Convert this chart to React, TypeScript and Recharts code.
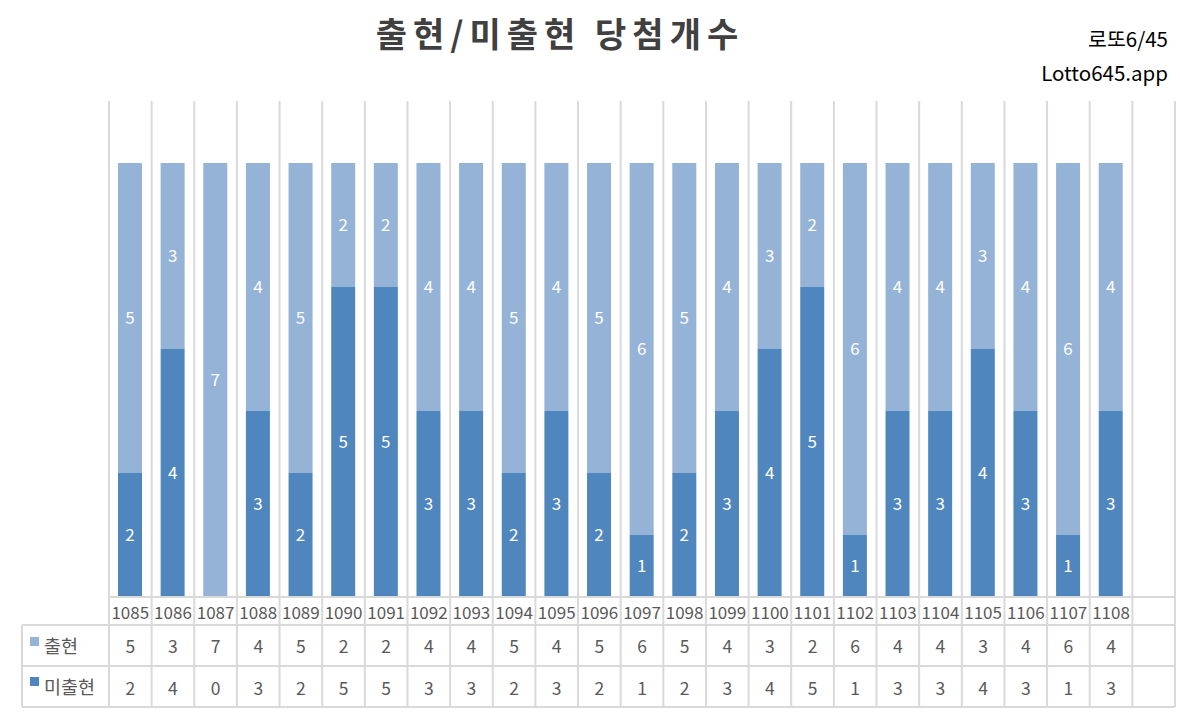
import React from 'react';
import { BarChart, Bar, XAxis, YAxis, CartesianGrid, LabelList } from 'recharts';

const roundLabelList = [
  '1085', '1086', '1087', '1088', '1089', '1090', '1091', '1092', '1093', '1094', '1095', '1096',
  '1097', '1098', '1099', '1100', '1101', '1102', '1103', '1104', '1105', '1106', '1107', '1108',
];
const appearedCountList = [5, 3, 7, 4, 5, 2, 2, 4, 4, 5, 4, 5, 6, 5, 4, 3, 2, 6, 4, 4, 3, 4, 6, 4];
const missedCountList = [2, 4, 0, 3, 2, 5, 5, 3, 3, 2, 3, 2, 1, 2, 3, 4, 5, 1, 3, 3, 4, 3, 1, 3];
const seriesNameList = ['출현', '미출현'];
const yTickList = [0, 8];

const CHART_WIDTH = 1180;
const CHART_HEIGHT = 723;
const PLOT_LEFT = 109;
const PLOT_RIGHT = 1175;
const PLOT_TOP = 101;
const PLOT_BOTTOM = 597;
const TABLE_LEFT = 22;
const ROW_LINES = [625, 666, 707];
const LIGHT = '#95b3d7';
const DARK = '#4f86bd';
const GRID = '#d9d9d9';
const TEXT = '#595959';
const FONT = '"Noto Sans CJK KR", "Noto Sans", sans-serif';

// one empty slot at the end, like the source sheet
const chartRowList = [
  ...roundLabelList.map((roundLabel, index) => ({
    roundLabel,
    appeared: appearedCountList[index],
    missed: missedCountList[index],
  })),
  { roundLabel: '', appeared: null, missed: null },
];

const slotCount = chartRowList.length;

function TableTick(props: any) {
  const { x, payload, index } = props;
  const row = chartRowList[index];
  return (
    <g fontFamily={FONT} fontSize={17} fill={TEXT} textAnchor="middle">
      <text x={x} y={PLOT_BOTTOM + 22} fill={TEXT}>{payload.value}</text>
      <text x={x} y={ROW_LINES[0] + 28} fill={TEXT} fontSize={17.5}>{row && row.appeared != null ? row.appeared : ''}</text>
      <text x={x} y={ROW_LINES[1] + 28.5} fill={TEXT} fontSize={17.5}>{row && row.missed != null ? row.missed : ''}</text>
    </g>
  );
}

function TableLines() {
  const slotWidth = (PLOT_RIGHT - PLOT_LEFT) / slotCount;
  const verticalList = Array.from({ length: slotCount + 1 }, (_, i) => PLOT_LEFT + i * slotWidth);
  return (
    <svg
      width={CHART_WIDTH}
      height={CHART_HEIGHT}
      style={{ position: 'absolute', left: 0, top: 0, pointerEvents: 'none' }}
    >
      <g stroke={GRID} strokeWidth={2}>
        {verticalList.map((x) => (
          <line key={x} x1={x} x2={x} y1={PLOT_BOTTOM} y2={ROW_LINES[2]} />
        ))}
        <line x1={TABLE_LEFT} x2={TABLE_LEFT} y1={ROW_LINES[0]} y2={ROW_LINES[2]} />
        {ROW_LINES.map((y) => (
          <line key={y} x1={TABLE_LEFT} x2={PLOT_RIGHT} y1={y} y2={y} />
        ))}
      </g>
      <rect x={30} y={637} width={9} height={9} fill={LIGHT} />
      <rect x={30} y={677} width={9} height={9} fill={DARK} />
      <g fontFamily={FONT} fontSize={18.5} fill={TEXT}>
        <text x={44} y={653}>{seriesNameList[0]}</text>
        <text x={44} y={694}>{seriesNameList[1]}</text>
      </g>
    </svg>
  );
}

export default function App(): React.JSX.Element {
  return (
    <div style={{ position: 'absolute', left: 0, top: 0, width: CHART_WIDTH, height: CHART_HEIGHT, background: '#fff' }}>
      <div
        style={{
          position: 'absolute',
          left: 0,
          top: 9,
          width: 1120,
          textAlign: 'center',
          fontFamily: FONT,
          fontWeight: 700,
          fontSize: 34,
          letterSpacing: 6,
          color: '#404040',
          lineHeight: '48px',
        }}
      >
        출현/미출현 당첨개수
      </div>
      <div
        style={{
          position: 'absolute',
          right: 12,
          top: 21,
          fontFamily: FONT,
          fontSize: 20.5,
          color: '#000',
          textAlign: 'right',
          lineHeight: '34px',
        }}
      >
        <div>로또6/45</div>
        <div>Lotto645.app</div>
      </div>
      <div style={{ position: 'absolute', left: 0, top: 0 }}>
        <BarChart
          width={CHART_WIDTH}
          height={CHART_HEIGHT}
          data={chartRowList}
          margin={{ top: PLOT_TOP, right: CHART_WIDTH - PLOT_RIGHT, left: PLOT_LEFT, bottom: 0 }}
          barSize={24}
        >
          <CartesianGrid
            horizontal={false}
            stroke={GRID}
            strokeWidth={2}
            verticalCoordinatesGenerator={({ offset }: any) => {
              const left = offset?.left ?? PLOT_LEFT;
              const width = offset?.width ?? PLOT_RIGHT - PLOT_LEFT;
              return Array.from({ length: slotCount + 1 }, (_, i) => left + (i * width) / slotCount);
            }}
          />
          <XAxis
            dataKey="roundLabel"
            interval={0}
            axisLine={{ stroke: GRID, strokeWidth: 2 }}
            tickLine={false}
            tick={<TableTick />}
            height={CHART_HEIGHT - PLOT_BOTTOM}
          />
          <YAxis hide domain={[yTickList[0], yTickList[1]]} ticks={yTickList} />
          <Bar dataKey="missed" name={seriesNameList[1]} stackId="a" fill={DARK} isAnimationActive={false}>
            <LabelList dataKey="missed" position="center" fill="#fff" fontSize={17} fontFamily={FONT} zIndex={2000} />
          </Bar>
          <Bar dataKey="appeared" name={seriesNameList[0]} stackId="a" fill={LIGHT} isAnimationActive={false}>
            <LabelList dataKey="appeared" position="center" fill="#fff" fontSize={17} fontFamily={FONT} zIndex={2000} />
          </Bar>
        </BarChart>
      </div>
      <TableLines />
    </div>
  );
}
